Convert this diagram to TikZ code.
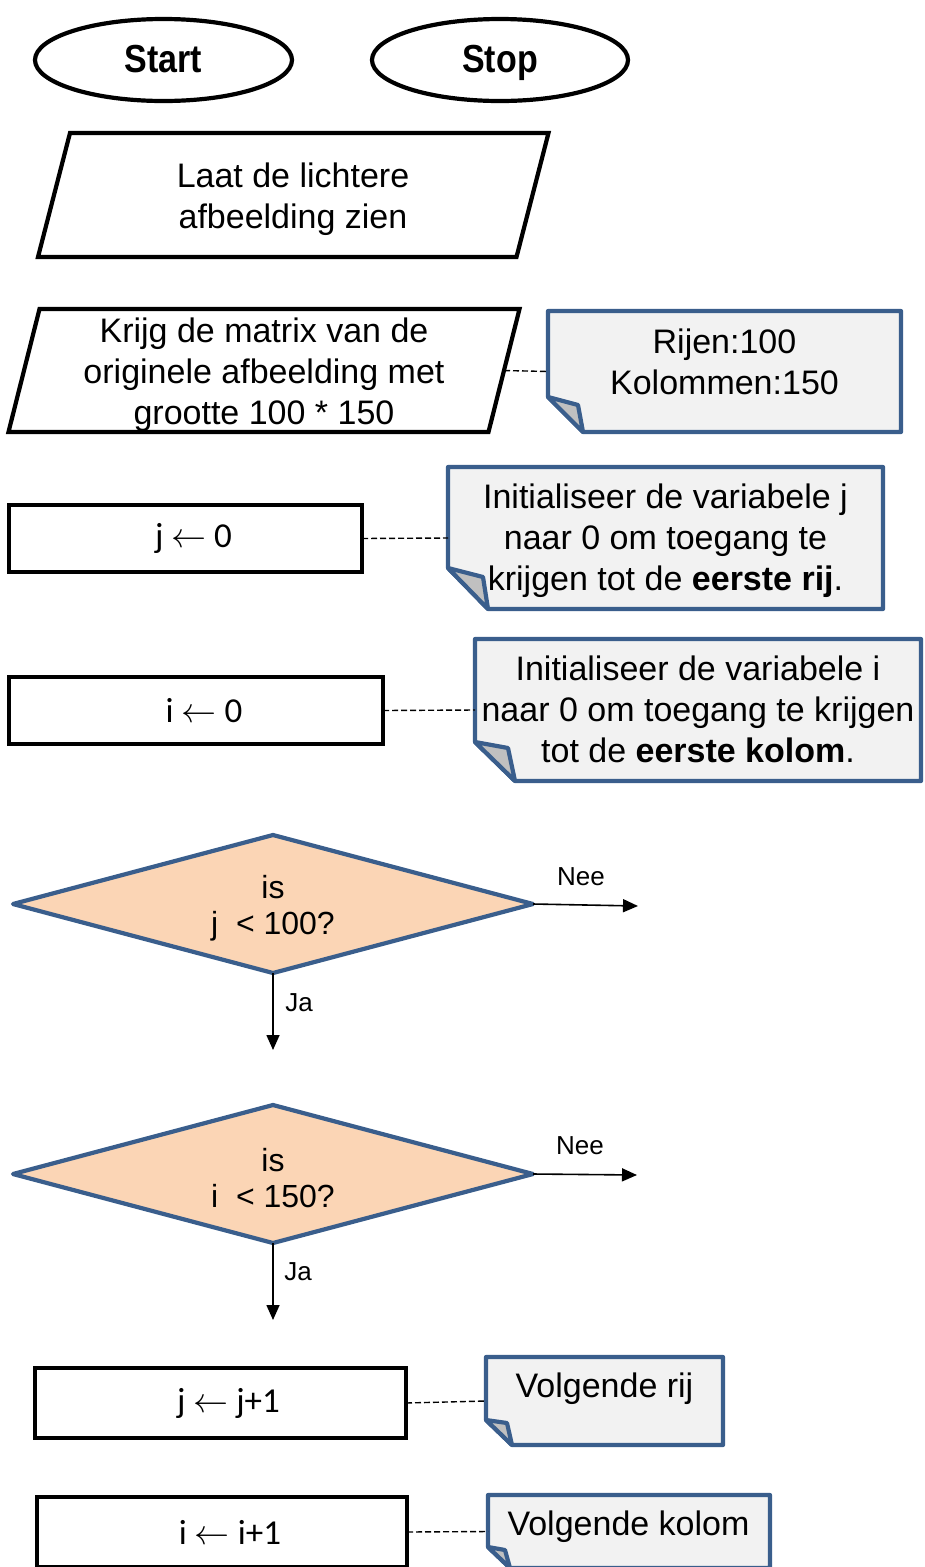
\RequirePackage{fix-cm}
\documentclass[tikz,border=0pt]{standalone}
\usepackage{fontspec}
\setmainfont{Liberation Sans}
\newfontfamily\calfont{Carlito}
\usetikzlibrary{shapes.geometric,arrows.meta,backgrounds}
\definecolor{nblue}{HTML}{3A5E8C}
\definecolor{nfill}{HTML}{F2F2F2}
\definecolor{nfold}{HTML}{C0C0C0}
\definecolor{dfill}{HTML}{FBD5B5}
\newcommand\notedraw[5]{%
  \path[notep] (#1.north west) -- (#1.north east) -- (#1.south east) -- ([xshift=#2pt]#1.south west) -- ([yshift=#3pt]#1.south west) -- cycle;
  \path[foldp] ([yshift=#3pt]#1.south west) -- ([xshift=#4pt,yshift=#5pt]#1.south west) -- ([xshift=#2pt]#1.south west) -- cycle;}
\begin{document}
\begin{tikzpicture}[x=1pt,y=-1pt,
  every node/.style={inner sep=0pt, outer sep=0pt},
  term/.style={ellipse, draw=black, line width=4.2pt, text height=24pt, text depth=0pt, font=\fontsize{34}{41}\selectfont\bfseries},
  box/.style={rectangle, draw=black, line width=4.2pt, font=\calfont\fontsize{35}{40}\selectfont},
  ghost/.style={rectangle, draw=none, align=center},
  txt/.style={align=center, font=\fontsize{34}{41}\selectfont},
  dtxt/.style={align=center, font=\fontsize{32}{36}\selectfont},
  lbl/.style={font=\fontsize{26}{30}\selectfont},
  io/.style={draw=black, line width=4.2pt, line join=miter},
  notep/.style={draw=nblue, fill=nfill, line width=4.2pt, line join=round},
  foldp/.style={draw=nblue, fill=nfold, line width=4.2pt, line join=round},
  decp/.style={draw=nblue, fill=dfill, line width=4.2pt, line join=round},
  conn/.style={draw=black, line width=1.6pt, -{Triangle[length=15pt,width=13pt]}},
  dconn/.style={draw=black, line width=1.4pt, dash pattern=on 6pt off 3pt},
]
\useasboundingbox (0,0) rectangle (925,1567);

% terminals
\node[term, minimum width=257pt, minimum height=82pt] (start) at (163.5,60) {\scalebox{1}[1.15]{Start}};
\node[term, minimum width=256pt, minimum height=82pt] (stop) at (500,60) {\scalebox{1}[1.15]{Stop}};

% input/output
\node[ghost, minimum width=478.5pt, minimum height=124pt] (p1) at (293.25,195) {};
\node[txt] (p1t) at (293,199) {Laat de lichtere\\afbeelding zien};
\draw[io] ([xshift=16pt]p1.north west) -- ([xshift=16pt]p1.north east) -- ([xshift=-16pt]p1.south east) -- ([xshift=-16pt]p1.south west) -- cycle;

\node[ghost, minimum width=480pt, minimum height=123pt] (p2) at (264,370.5) {};
\node[txt] (p2t) at (264,374.5) {Krijg de matrix van de\\originele afbeelding met\\grootte 100 * 150};
\draw[io] ([xshift=15.5pt]p2.north west) -- ([xshift=15.5pt]p2.north east) -- ([xshift=-15.5pt]p2.south east) -- ([xshift=-15.5pt]p2.south west) -- cycle;

% process boxes
\node[box, minimum width=353pt, minimum height=67pt] (r1) at (185.5,538.5) {\hspace*{16pt}j $\leftarrow$ 0};
\node[box, minimum width=374pt, minimum height=67pt] (r2) at (196,710.5) {\hspace*{16pt}i $\leftarrow$ 0};
\node[box, minimum width=371pt, minimum height=70pt] (r3) at (220.5,1403) {\hspace*{16pt}j $\leftarrow$ j+1};
\node[box, minimum width=370pt, minimum height=70pt] (r4) at (222,1532) {\hspace*{16pt}i $\leftarrow$ i+1};

% notes (frames)
\node[ghost, minimum width=353pt, minimum height=121pt] (n1) at (724.5,371.5) {};
\node[ghost, minimum width=435pt, minimum height=142pt] (n2) at (665.5,538) {};
\node[ghost, minimum width=446pt, minimum height=142pt] (n3) at (698,710) {};
\node[ghost, minimum width=237pt, minimum height=88pt] (n4) at (604.5,1401) {};
\node[ghost, minimum width=282pt, minimum height=73pt] (n5) at (629,1531.5) {};

% decisions
\node[ghost, minimum width=520pt, minimum height=138pt] (d1) at (273,904) {};
\node[ghost, minimum width=520pt, minimum height=138pt] (d2) at (273,1174) {};

\begin{pgfonlayer}{background}
  \fill[white] (0,0) rectangle (925,1567);
  \notedraw{n1}{35}{35}{30}{27}
  \notedraw{n2}{40}{41}{35}{32}
  \notedraw{n3}{40}{39}{33}{33}
  \notedraw{n4}{26}{25}{21}{22}
  \notedraw{n5}{22}{21}{17}{18}
  \path[decp] (d1.west) -- (d1.north) -- (d1.east) -- (d1.south) -- cycle;
  \path[decp] (d2.west) -- (d2.north) -- (d2.east) -- (d2.south) -- cycle;
\end{pgfonlayer}

% decision texts
\node[dtxt] (d1t) at (273,908) {is\\j\ \ {<} 100?};
\node[dtxt] (d2t) at (273,1178) {is\\i\ \ {<} 150?};

% note texts
\node[txt] (n1t) at (724.5,361.5) {Rijen:100\\Kolommen:150};
\node[txt] (n2t) at (665.5,541) {Initialiseer de variabele j\\naar 0 om toegang te\\krijgen tot de \textbf{eerste rij}.};
\node[txt] (n3t) at (698,709) {Initialiseer de variabele i\\naar 0 om toegang te krijgen\\tot de \textbf{eerste kolom}.};
\node[txt] (n4t) at (604.5,1389) {Volgende rij};
\node[txt] (n5t) at (628.5,1527) {Volgende kolom};

% dashed connectors to notes
\draw[dconn] (p2.east) -- (n1.west);
\draw[dconn] (r1.east) -- (n2.west);
\draw[dconn] (r2.east) -- (n3.west);
\draw[dconn] (r3.east) -- (n4.west);
\draw[dconn] (r4.east) -- (n5.west);

% decision exits
\coordinate (d1no) at (638,906);
\coordinate (d1yes) at (273,1050);
\coordinate (d2no) at (637,1175);
\coordinate (d2yes) at (273,1320);
\draw[conn] (d1.east) -- (d1no);
\draw[conn] (d1.south) -- (d1yes);
\draw[conn] (d2.east) -- (d2no);
\draw[conn] (d2.south) -- (d2yes);
\node[lbl] (nee1) at (581,877) {Nee};
\node[lbl] (ja1) at (299,1003) {Ja};
\node[lbl] (nee2) at (580,1146) {Nee};
\node[lbl] (ja2) at (298,1272) {Ja};
\end{tikzpicture}
\end{document}
